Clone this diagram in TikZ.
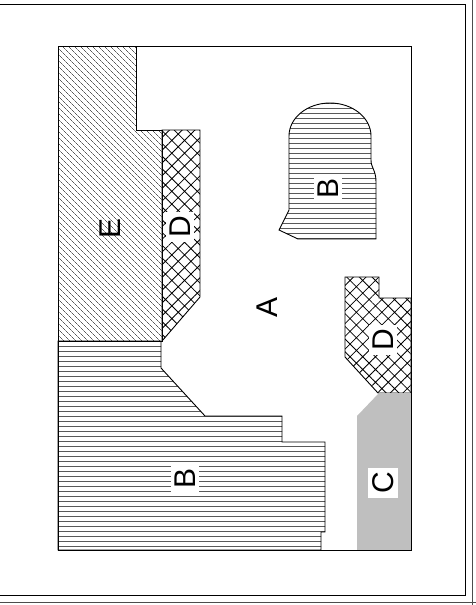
\documentclass[tikz,border=0pt]{standalone}
\usepackage{fontspec}
\setmainfont{Liberation Sans}
\usepackage{tikz}
\usetikzlibrary{patterns.meta}
\tikzstyle{frame} = [line width=1pt, draw=black]
\tikzstyle{outline} = [line width=0.9pt, draw=black]
\tikzstyle{diag} = [outline, pattern={Lines[angle=-45, distance=4pt, line width=0.4pt]}]
\tikzstyle{horiz} = [outline, pattern={Lines[angle=0, distance=5.4pt, line width=0.6pt]}]
\tikzstyle{cross} = [outline, pattern={Hatch[angle=45, distance=9pt, line width=0.8pt]}]
\tikzstyle{stipple} = [draw=none, fill=black!25]
\tikzstyle{letter} = [fill=white, inner sep=4pt, rotate=90, font=\fontsize{30}{32}\selectfont]

\begin{document}
\begin{tikzpicture}[x=1pt, y=-1pt]
        \useasboundingbox (0,0) rectangle (476,605);
        % Frame
        \draw [frame] (0,4) -- (465,4) -- (465,595) -- (0,595);
        \draw [frame, draw=black!70] (472,0) -- (472,605);
        \draw [frame, draw=black!70] (0,602) -- (476,602);

        % Regions
        \draw [outline] (58,46) rectangle (411,550);
        \draw [diag] (58,46) -- (136,46) -- (136,130) -- (162,130) -- (162,341) -- (58,341) -- cycle;
        \draw [cross] (162,130) -- (200,130) -- (200,297) -- (162,341) -- cycle;
        \draw [horiz] (58,341) -- (161,341) -- (161,368) -- (205,416) -- (282,416) -- (282,442)
            -- (325,442) -- (325,532) -- (321,532) -- (321,550) -- (58,550) -- cycle;
        \draw [horiz] (289,136) -- (289,210) -- (279,230) -- (298,239) -- (376,239) -- (376,182)
            .. controls (376,170) and (371,168) .. (371,160) -- (371,136)
            arc [start angle=0, end angle=-180, x radius=41, y radius=33] -- cycle;
        \draw [cross] (345,277) -- (379,277) -- (379,298) -- (411,298) -- (411,393) -- (378,393) -- (345,357) -- cycle;
        \fill [stipple] (379,393) -- (411,393) -- (411,550) -- (357,550) -- (357,416) -- cycle;
        \draw [outline] (357,550) -- (411,550) -- (411,393);

        % Labels
        \node (labelE) [letter, fill=none] at (110,228) {E};
        \node (labelD1) [letter] at (180,227) {D};
        \node (labelA) [letter, fill=none] at (267,307) {A};
        \node (labelB1) [letter] at (328,188) {B};
        \node (labelD2) [letter] at (383,340) {D};
        \node (labelB2) [letter] at (185,478) {B};
        \node (labelC) [letter] at (383,483) {C};
    \end{tikzpicture}
\end{document}
